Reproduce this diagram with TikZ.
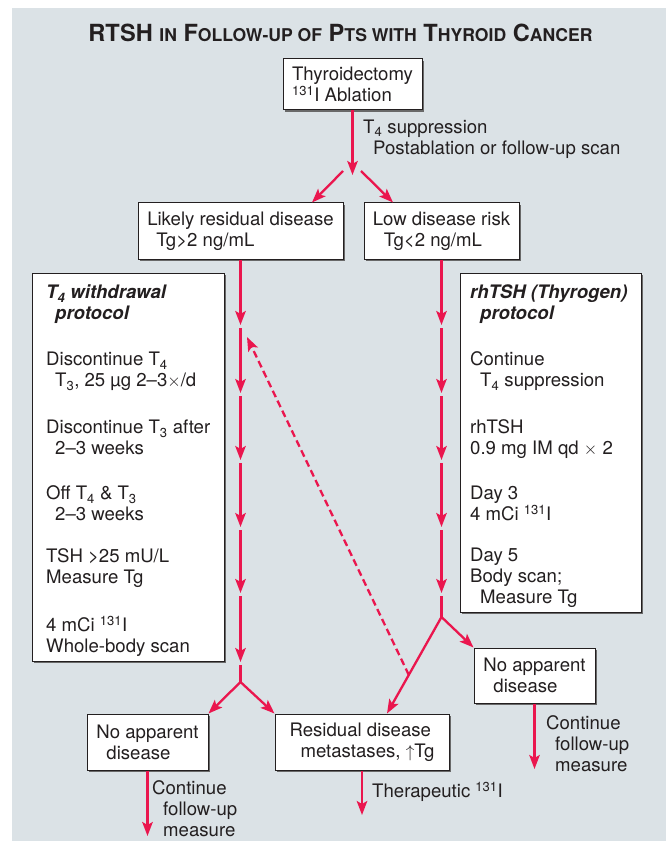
\documentclass[tikz,border=0pt]{standalone}
\usepackage{fontspec}
\setmainfont{TeX Gyre Heros}
\usetikzlibrary{arrows.meta,shadows,calc}

\definecolor{panelgray}{RGB}{219,226,230}
\definecolor{flowred}{RGB}{234,22,78}
\definecolor{inkgray}{RGB}{35,31,32}
\definecolor{shadegray}{RGB}{105,105,105}

\newcommand{\tsc}[1]{{\fontsize{17.6}{20}\selectfont #1}}

\begin{document}
\begin{tikzpicture}[x=1pt,y=-1pt,>={Stealth[length=14pt,width=10.5pt,inset=3pt]},
  flow/.style={draw=flowred,line width=2.3pt},
  flowarrow/.style={flow,->},
  card/.style={draw=inkgray,line width=1pt,fill=white,inner sep=0pt,
    drop shadow={shadow xshift=2pt,shadow yshift=-2pt,fill=shadegray,opacity=1}},
  cardtext/.style={card,align=left,text=inkgray,font=\fontsize{18.6}{21}\selectfont},
  note/.style={inner sep=0pt,align=left,text=inkgray,font=\fontsize{18.6}{21}\selectfont}]
\useasboundingbox (0,0) rectangle (666,842);
\fill[panelgray] (12,8) rectangle (666,841);
% title
\node[font=\bfseries\fontsize{23.6}{26}\selectfont,text=inkgray,anchor=base,inner sep=0pt] (title) at (340.5,41.5)
  {RTSH \tsc{IN} F\tsc{OLLOW-UP OF} P\tsc{TS WITH} T\tsc{HYROID} C\tsc{ANCER}};
% boxes
\node[cardtext,minimum width=139,minimum height=51] (thy) at (352.5,84.5) {Thyroidectomy\\\textsuperscript{131}I Ablation};
\node[cardtext,minimum width=205,minimum height=56] (likely) at (240.5,231) {Likely residual disease\\\hspace*{9pt}Tg>2 ng/mL};
\node[cardtext,minimum width=155,minimum height=56] (low) at (441.5,231) {Low disease risk\\\hspace*{11pt}Tg<2 ng/mL};
\node[card,minimum width=192,minimum height=388] (wdraw) at (128,467) {};
\node[note,anchor=north west] (wdrawtext) at (46,285) {\textbf{\textit{T\textsubscript{4} withdrawal}}\\\hspace*{9pt}\textbf{\textit{protocol}}\\[25pt]
  Discontinue T\textsubscript{4}\\\hspace*{9pt}T\textsubscript{3}, 25 µg 2–3$\times$/d\\[26pt]
  Discontinue T\textsubscript{3} after\\\hspace*{9pt}2–3 weeks\\[24pt]
  Off T\textsubscript{4} \& T\textsubscript{3}\\\hspace*{9pt}2–3 weeks\\[21pt]
  TSH >25 mU/L\\Measure Tg\\[27pt]
  4 mCi \textsuperscript{131}I\\Whole-body scan};
\node[card,minimum width=181,minimum height=339] (rhtsh) at (550.5,442.5) {};
\node[note,anchor=north west] (rhtshtext) at (470,285) {\textbf{\textit{rhTSH (Thyrogen)}}\\\hspace*{10pt}\textbf{\textit{protocol}}\\[25pt]
  Continue\\\hspace*{10pt}T\textsubscript{4} suppression\\[26pt]
  rhTSH\\0.9 mg IM qd $\times$ 2\\[24pt]
  Day 3\\4 mCi \textsuperscript{131}I\\[20pt]
  Day 5\\Body scan;\\\hspace*{10pt}Measure Tg};
\node[cardtext,minimum width=121,minimum height=55] (noneR) at (534.5,675.5) {No apparent\\\hspace*{10pt}disease};
\node[cardtext,minimum width=121,minimum height=56] (noneL) at (147.5,742) {No apparent\\\hspace*{10pt}disease};
\node[cardtext,minimum width=174,minimum height=56] (resid) at (362,742) {Residual disease\\\hspace*{11pt}metastases, $\uparrow$Tg};
% top split
\coordinate (topsplit) at (352.5,175);
\coordinate (forkL) at (343,171);
\coordinate (forkR) at (361,171);
\draw[flowarrow] (thy.south) -- (topsplit);
\draw[flowarrow] (forkL) -- ([xshift=71.5pt]likely.north);
\draw[flowarrow] (forkR) -- ([xshift=-48.5pt]low.north);
\node[note,anchor=west] (supp) at (363,139) {T\textsubscript{4} suppression\\\hspace*{10pt}Postablation or follow-up scan};
% withdrawal chain
\foreach \n/\yy in {1/325,2/393,3/460,4/527,5/593,6/662}
  \coordinate (w\n) at (240.5,\yy);
\coordinate (wfork) at (240.5,682);
\draw[flowarrow] (likely.south) -- (w1);
\foreach \a/\b in {1/2,2/3,3/4,4/5,5/6}
  \draw[flowarrow,shorten <=3pt] (w\a) -- (w\b);
\draw[flow,shorten <=3pt] (w6) -- (wfork);
\draw[flowarrow] (wfork) -- (noneL.north east);
\draw[flowarrow] (wfork) -- (resid.north west);
% rhTSH chain
\foreach \n/\yy in {1/325,2/393,3/460,4/527,5/593}
  \coordinate (r\n) at (441.5,\yy);
\coordinate (rfork) at (441.5,617);
\draw[flowarrow] (low.south) -- (r1);
\foreach \a/\b in {1/2,2/3,3/4,4/5}
  \draw[flowarrow,shorten <=3pt] (r\a) -- (r\b);
\draw[flow,shorten <=3pt] (r5) -- (rfork);
\draw[flowarrow] (rfork) -- (noneR.north west);
\coordinate (residin) at ([xshift=25pt]resid.north);
\draw[flowarrow] (rfork) -- (residin);
% back to withdrawal
\coordinate (dashfrom) at ($(rfork)!0.6!(residin)$);
\coordinate (dashto) at (247,337);
\draw[flowarrow,dash pattern=on 7pt off 4pt] (dashfrom) -- (dashto);
% outcomes
\coordinate (endL) at (147.5,836);
\coordinate (endM) at (362,815);
\coordinate (endR) at (534.5,769);
\draw[flowarrow] (noneL.south) -- (endL);
\draw[flowarrow] (resid.south) -- (endM);
\draw[flowarrow] (noneR.south) -- (endR);
\node[note,anchor=west] (contL) at (152,809) {Continue\\\hspace*{11pt}follow-up\\\hspace*{11pt}measure};
\node[note,anchor=west] (ther) at (372,792) {Therapeutic \textsuperscript{131}I};
\node[note,anchor=west] (contR) at (546,744) {Continue\\\hspace*{9pt}follow-up\\\hspace*{9pt}measure};
\end{tikzpicture}
\end{document}
